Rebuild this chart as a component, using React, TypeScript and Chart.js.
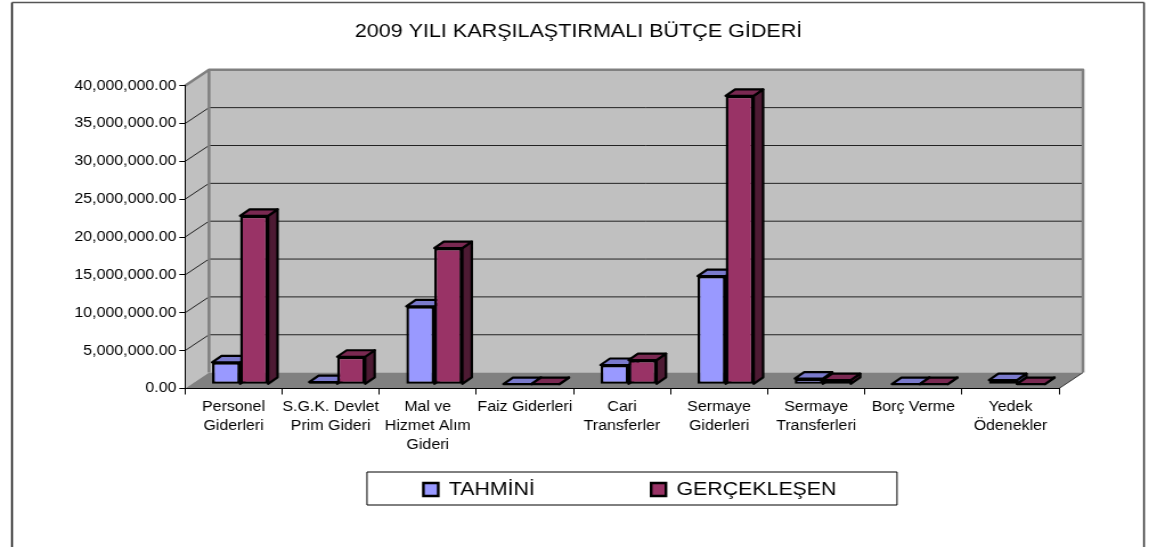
import React, { useEffect, useRef } from "react";
import { Chart, registerables } from "chart.js";

Chart.register(...registerables);

const categories = [
  ["Personel", "Giderleri"],
  ["S.G.K. Devlet", "Prim Gideri"],
  ["Mal ve", "Hizmet Alım", "Gideri"],
  "Faiz Giderleri",
  ["Cari", "Transferler"],
  ["Sermaye", "Giderleri"],
  ["Sermaye", "Transferleri"],
  "Borç Verme",
  ["Yedek", "Ödenekler"],
];
const tahmini = [2900000, 300000, 10300000, 20000, 2550000, 14300000, 750000, 20000, 550000];
const gerceklesen = [22260000, 3640000, 18000000, 15000, 3200000, 38100000, 550000, 15000, 30000];
const seriesNames = ["TAHMİNİ", "GERÇEKLEŞEN"];
const frontColors = ["#9999FF", "#993366"];
const topColors = ["#7A7ACC", "#7A2952"];
const sideColors = ["#4D4D80", "#4D1A33"];
const titleText = "2009 YILI KARŞILAŞTIRMALI BÜTÇE GİDERİ";

const K = 1.14; // the reference is stretched horizontally
const PAGE_W = 1157;
const PAGE_H = 547;
const W = Math.round(PAGE_W / K);
const X = (px: number) => (px * W) / PAGE_W;
const AREA = { left: 185, right: 1059, top: 85.7, bottom: 388.5 };
const WALL = { dx: 24, dy: 15.9 };
const BAR_OFFSET = { x: 6.5, y: 4.2 };
const BAR_DEPTH = { x: 9.5, y: 6.5 };
const LEGEND_PAD = 102;
const LEGEND_FONT = 18.7;
const TITLE_FONT = 18.9;

function poly(ctx: CanvasRenderingContext2D, pts: number[][], fill?: string, stroke?: string, lw = 1) {
  ctx.beginPath();
  pts.forEach((p, i) => (i ? ctx.lineTo(p[0], p[1]) : ctx.moveTo(p[0], p[1])));
  if (fill) {
    ctx.closePath();
    ctx.fillStyle = fill;
    ctx.fill();
  }
  if (stroke) {
    ctx.strokeStyle = stroke;
    ctx.lineWidth = lw;
    ctx.lineJoin = "round";
    ctx.stroke();
  }
}

const threeD = {
  id: "threeD",
  afterLayout(chart: any) {
    const legend = chart.legend;
    legend.left = X(423.4) - LEGEND_PAD;
    legend.right = legend.left + W;
    legend.top = 489.5 - LEGEND_FONT / 2 - LEGEND_PAD;
    chart.titleBlock.left = 0;
    chart.titleBlock.right = W;
  },
  beforeDraw(chart: any) {
    const { ctx, chartArea: a, scales } = chart;
    const dx = X(WALL.dx);
    const dy = WALL.dy;
    ctx.save();
    poly(ctx, [[X(12), PAGE_H], [X(12), 2.5]], undefined, "#111", 1.5);
    poly(ctx, [[X(12), 2.5], [X(1144), 2.5]], undefined, "#555", 1.5);
    poly(ctx, [[X(1144), 2.5], [X(1144), PAGE_H]], undefined, "#333", 1.5);
    poly(ctx, [[a.left, a.bottom], [a.left, a.top], [a.left + dx, a.top - dy], [a.left + dx, a.bottom - dy]], "#C0C0C0");
    poly(ctx, [[a.left + dx, a.top - dy], [a.right + dx, a.top - dy], [a.right + dx, a.bottom - dy], [a.left + dx, a.bottom - dy]], "#C0C0C0");
    poly(ctx, [[a.left, a.bottom], [a.right, a.bottom], [a.right + dx, a.bottom - dy], [a.left + dx, a.bottom - dy]], "#808080");
    const yScale = scales.y;
    yScale.ticks.forEach((t: any) => {
      const y = yScale.getPixelForValue(t.value);
      if (t.value > 0 && t.value < yScale.max) {
        poly(ctx, [[a.left, y], [a.left + dx, y - dy], [a.right + dx, y - dy]], undefined, "#222", 1);
      }
    });
    poly(ctx, [[a.left, a.top], [a.left + dx, a.top - dy], [a.right + dx, a.top - dy], [a.right + dx, a.bottom - dy]], undefined, "#808080", 2.5);
    poly(ctx, [[a.left + dx, a.top - dy], [a.left + dx, a.bottom - dy]], undefined, "#808080", 2.5);
    poly(ctx, [[a.right, a.bottom], [a.right + dx, a.bottom - dy]], undefined, "#333", 1);
    ctx.strokeStyle = "#000";
    ctx.lineWidth = 1;
    ctx.strokeRect(X(367), 472, X(897) - X(367), 33);
    ctx.restore();
  },
  beforeDatasetsDraw(chart: any) {
    const { ctx } = chart;
    const ox = X(BAR_OFFSET.x);
    const oy = -BAR_OFFSET.y;
    const d = X(BAR_DEPTH.x);
    const e = BAR_DEPTH.y;
    ctx.save();
    chart.data.datasets.forEach((_: any, di: number) => {
      chart.getDatasetMeta(di).data.forEach((b: any) => {
        const l = b.x - b.width / 2 + ox;
        const r = b.x + b.width / 2 + ox;
        const t = b.y + oy;
        const base = b.base + oy;
        poly(ctx, [[r, t], [r + d, t - e], [r + d, base - e], [r, base]], sideColors[di], "#000", 2.2);
        poly(ctx, [[l, t], [r, t], [r + d, t - e], [l + d, t - e]], topColors[di], "#000", 2.2);
      });
    });
    ctx.restore();
    ctx.save();
    ctx.translate(ox, oy);
  },
  afterDatasetsDraw(chart: any) {
    chart.ctx.restore();
  },
};

export default function App() {
  const ref = useRef<HTMLCanvasElement>(null);
  useEffect(() => {
    const chart = new Chart(ref.current as HTMLCanvasElement, {
      type: "bar",
      data: {
        labels: categories as any,
        datasets: [tahmini, gerceklesen].map((values, i) => ({
          label: seriesNames[i],
          data: values,
          backgroundColor: frontColors[i],
          borderColor: "#000",
          borderWidth: 2.4,
          borderSkipped: false,
          categoryPercentage: 56 / 97.1,
          barPercentage: 1,
          clip: false as any,
        })),
      },
      options: {
        responsive: false,
        animation: false,
        maintainAspectRatio: false,
        devicePixelRatio: 1,
        layout: { padding: { left: 0, top: 0, bottom: 0, right: W - X(AREA.right) } },
        font: { family: "'Liberation Sans', Arial, sans-serif" },
        plugins: {
          tooltip: { enabled: false },
          title: {
            display: true,
            text: titleText,
            color: "#000",
            font: { family: "'Liberation Sans'", size: TITLE_FONT, weight: "normal", lineHeight: 1.2 },
            padding: { top: 20, bottom: AREA.top - 20 - TITLE_FONT * 1.2 },
          },
          legend: {
            display: true,
            position: "bottom",
            align: "start",
            maxHeight: 30,
            labels: {
              color: "#000",
              boxWidth: 13,
              boxHeight: 13,
              padding: LEGEND_PAD,
              font: { family: "'Liberation Sans'", size: LEGEND_FONT },
            },
          },
        },
        scales: {
          x: {
            afterFit(s: any) {
              s.height = PAGE_H - AREA.bottom - s.chart.legend.height;
            },
            grid: { drawOnChartArea: false, drawTicks: true, tickLength: 6, color: "#000" },
            border: { color: "#000", width: 1 },
            ticks: {
              color: "#000",
              autoSkip: false,
              maxRotation: 0,
              minRotation: 0,
              padding: 3.5,
              font: { family: "'Liberation Sans'", size: 14, lineHeight: 1.35 },
            },
          },
          y: {
            min: 0,
            max: 40000000,
            afterFit(s: any) {
              s.width = X(AREA.left);
            },
            grid: { drawOnChartArea: false, drawTicks: true, tickLength: 5, color: "#000" },
            border: { color: "#000", width: 1 },
            ticks: {
              color: "#000",
              stepSize: 5000000,
              padding: 2.5,
              font: { family: "'Liberation Sans'", size: 14 },
              callback: (v: any) =>
                Number(v).toLocaleString("en-US", { minimumFractionDigits: 2, maximumFractionDigits: 2 }),
            },
          },
        },
      } as any,
      plugins: [threeD as any],
    });
    return () => chart.destroy();
  }, []);
  return (
    <canvas
      ref={ref}
      width={W}
      height={PAGE_H}
      style={{ position: "absolute", left: 0, top: 0, width: PAGE_W, height: PAGE_H }}
    />
  );
}
